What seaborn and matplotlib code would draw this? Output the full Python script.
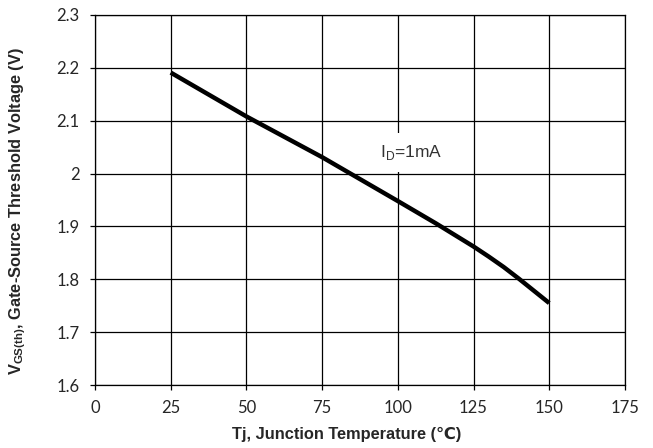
import matplotlib
matplotlib.use("Agg")
import matplotlib.pyplot as plt
import seaborn as sns
import pandas as pd

# Data
tj = [25, 50, 75, 100, 112.5, 125, 130, 135, 140, 145, 150]
vth = [2.191, 2.108, 2.031, 1.948, 1.906, 1.862, 1.843, 1.823, 1.801, 1.778, 1.755]
x_ticks = [0, 25, 50, 75, 100, 125, 150, 175]
y_ticks = [1.6, 1.7, 1.8, 1.9, 2.0, 2.1, 2.2, 2.3]
y_tick_labels = ["1.6", "1.7", "1.8", "1.9", "2", "2.1", "2.2", "2.3"]

df = pd.DataFrame({"Tj": tj, "Vth": vth})

sns.set_theme(style="white")
plt.rcParams['font.family'] = ['Lato', 'DejaVu Sans']

fig = plt.figure(figsize=(6.53, 4.48), dpi=100)
ax = fig.add_axes([0.1455, 0.1406, 0.8115, 0.826])

sns.lineplot(data=df, x="Tj", y="Vth", ax=ax, color="black", linewidth=3.2,
             solid_capstyle="butt", solid_joinstyle="round", zorder=5)

ax.set_xlim(0, 175)
ax.set_ylim(1.6, 2.3)
ax.set_xticks(x_ticks)
ax.set_xticklabels([str(v) for v in x_ticks])
ax.set_yticks(y_ticks)
ax.set_yticklabels(y_tick_labels)
ax.grid(True, color="black", linewidth=0.9)
for s in ax.spines.values():
    s.set_color("black")
    s.set_linewidth(0.9)
ax.tick_params(axis="both", which="both", direction="out", length=3.6, width=0.9,
               color="black", labelsize=12, labelcolor="#262626", pad=7.5)
ax.tick_params(left=True, bottom=True)

ax.set_xlabel("Tj, Junction Temperature (℃)", fontsize=11.8, fontweight="bold",
              family=["Liberation Sans", "DejaVu Sans"])
ax.set_ylabel(r"V$_{\mathregular{GS(th)}}$, Gate-Source Threshold Voltage (V)", fontsize=11.8,
              fontweight="bold", family=["Liberation Sans", "DejaVu Sans"])
ax.xaxis.set_label_coords(0.4745, -0.1135)
ax.yaxis.set_label_coords(-0.1264, 0.469)

ax.text(94, 2.04, r"I$_{\mathregular{D}}$=1mA", fontsize=12.5, color="#333333",
        family=["Liberation Sans", "DejaVu Sans"], va="center", ha="left", zorder=4,
        bbox=dict(facecolor="white", edgecolor="none", pad=7))

fig.savefig("out.png", dpi=100)
